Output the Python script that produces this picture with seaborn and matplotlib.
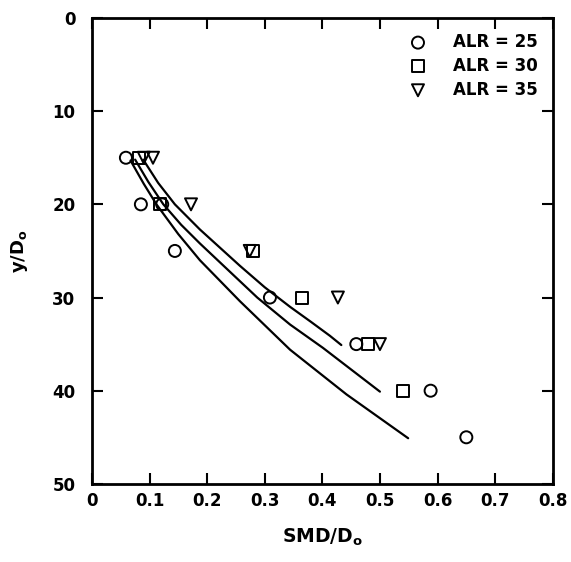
import pandas as pd
import matplotlib
matplotlib.use('Agg')
import matplotlib.pyplot as plt
import seaborn as sns

# Measured points (SMD/Do, y/Do) for each ALR
alr_labels = ['ALR = 25', 'ALR = 30', 'ALR = 35']
markers = ['o', 's', 'v']

smd_25 = [0.059, 0.085, 0.122, 0.144, 0.309, 0.459, 0.588, 0.650]
y_25 = [15, 20, 20, 25, 30, 35, 40, 45]
smd_30 = [0.082, 0.118, 0.280, 0.365, 0.479, 0.540]
y_30 = [15, 20, 25, 30, 35, 40]
smd_35 = [0.090, 0.106, 0.172, 0.274, 0.427, 0.500]
y_35 = [15, 15, 20, 25, 30, 35]

# Correlation curves
curve_x_25 = [0.067, 0.090, 0.112, 0.150, 0.1875, 0.257, 0.344, 0.442, 0.549]
curve_y_25 = [15.3, 17.8, 20.0, 23.2, 26.0, 30.4, 35.6, 40.4, 45.1]
curve_x_30 = [0.075, 0.098, 0.124, 0.155, 0.1875, 0.287, 0.344, 0.401, 0.500]
curve_y_30 = [15.2, 17.6, 20.0, 22.2, 24.2, 30.0, 32.9, 35.4, 40.1]
curve_x_35 = [0.089, 0.115, 0.144, 0.1875, 0.257, 0.300, 0.344, 0.380, 0.413, 0.433]
curve_y_35 = [15.2, 17.7, 20.0, 22.7, 26.6, 28.9, 31.0, 32.6, 34.1, 35.1]

points = [(smd_25, y_25), (smd_30, y_30), (smd_35, y_35)]
curves = [(curve_x_25, curve_y_25), (curve_x_30, curve_y_30), (curve_x_35, curve_y_35)]

sns.set_style('ticks')
plt.rcParams['font.family'] = ['DejaVu Sans']
plt.rcParams['font.weight'] = 'bold'
plt.rcParams['text.color'] = 'black'
plt.rcParams['axes.labelcolor'] = 'black'
plt.rcParams['xtick.color'] = 'black'
plt.rcParams['ytick.color'] = 'black'
plt.rcParams['mathtext.fontset'] = 'custom'
plt.rcParams['mathtext.bf'] = 'DejaVu Sans:bold'
plt.rcParams['mathtext.rm'] = 'DejaVu Sans:bold'

fig = plt.figure(figsize=(5.71, 5.62), dpi=100)
ax = fig.add_axes([0.161, 0.139, 0.807, 0.829])

for (cx, cy) in curves:
    df = pd.DataFrame({'x': cx, 'y': cy})
    sns.lineplot(data=df, x='x', y='y', sort=False, estimator=None,
                 color='black', linewidth=1.6, ax=ax)

for (px, py), lab, m in zip(points, alr_labels, markers):
    df = pd.DataFrame({'x': px, 'y': py})
    sns.scatterplot(data=df, x='x', y='y', marker=m, s=75,
                    facecolor='none', edgecolor='black', linewidth=1.4,
                    label=lab, ax=ax)

ax.set_xlim(0, 0.8)
ax.set_ylim(50, 0)
ax.set_xticks([0, 0.1, 0.2, 0.3, 0.4, 0.5, 0.6, 0.7, 0.8])
ax.set_xticklabels(['0', '0.1', '0.2', '0.3', '0.4', '0.5', '0.6', '0.7', '0.8'])
ax.set_yticks([0, 10, 20, 30, 40, 50])
ax.tick_params(direction='in', length=8, width=1.5, top=True, right=True,
               labelsize=12, colors='black')
ax.tick_params(axis='y', pad=12)
ax.tick_params(axis='x', pad=6)
for lbl in ax.get_xticklabels() + ax.get_yticklabels():
    lbl.set_fontweight('bold')
for sp in ax.spines.values():
    sp.set_linewidth(2)
    sp.set_color('black')

ax.set_xlabel(r'SMD/D$_{\mathbf{o}}$', fontsize=13.5, fontweight='bold',
              labelpad=12, color='black')
ax.set_ylabel(r'y/D$_{\mathbf{o}}$', fontsize=13, fontweight='bold',
              labelpad=16, color='black')

leg = ax.legend(loc='upper right', frameon=False, fontsize=12,
                handletextpad=1.6, labelspacing=0.35, borderaxespad=0.5,
                handlelength=1.0)
for t in leg.get_texts():
    t.set_fontweight('bold')
    t.set_color('black')

fig.savefig('out.png', dpi=100)
